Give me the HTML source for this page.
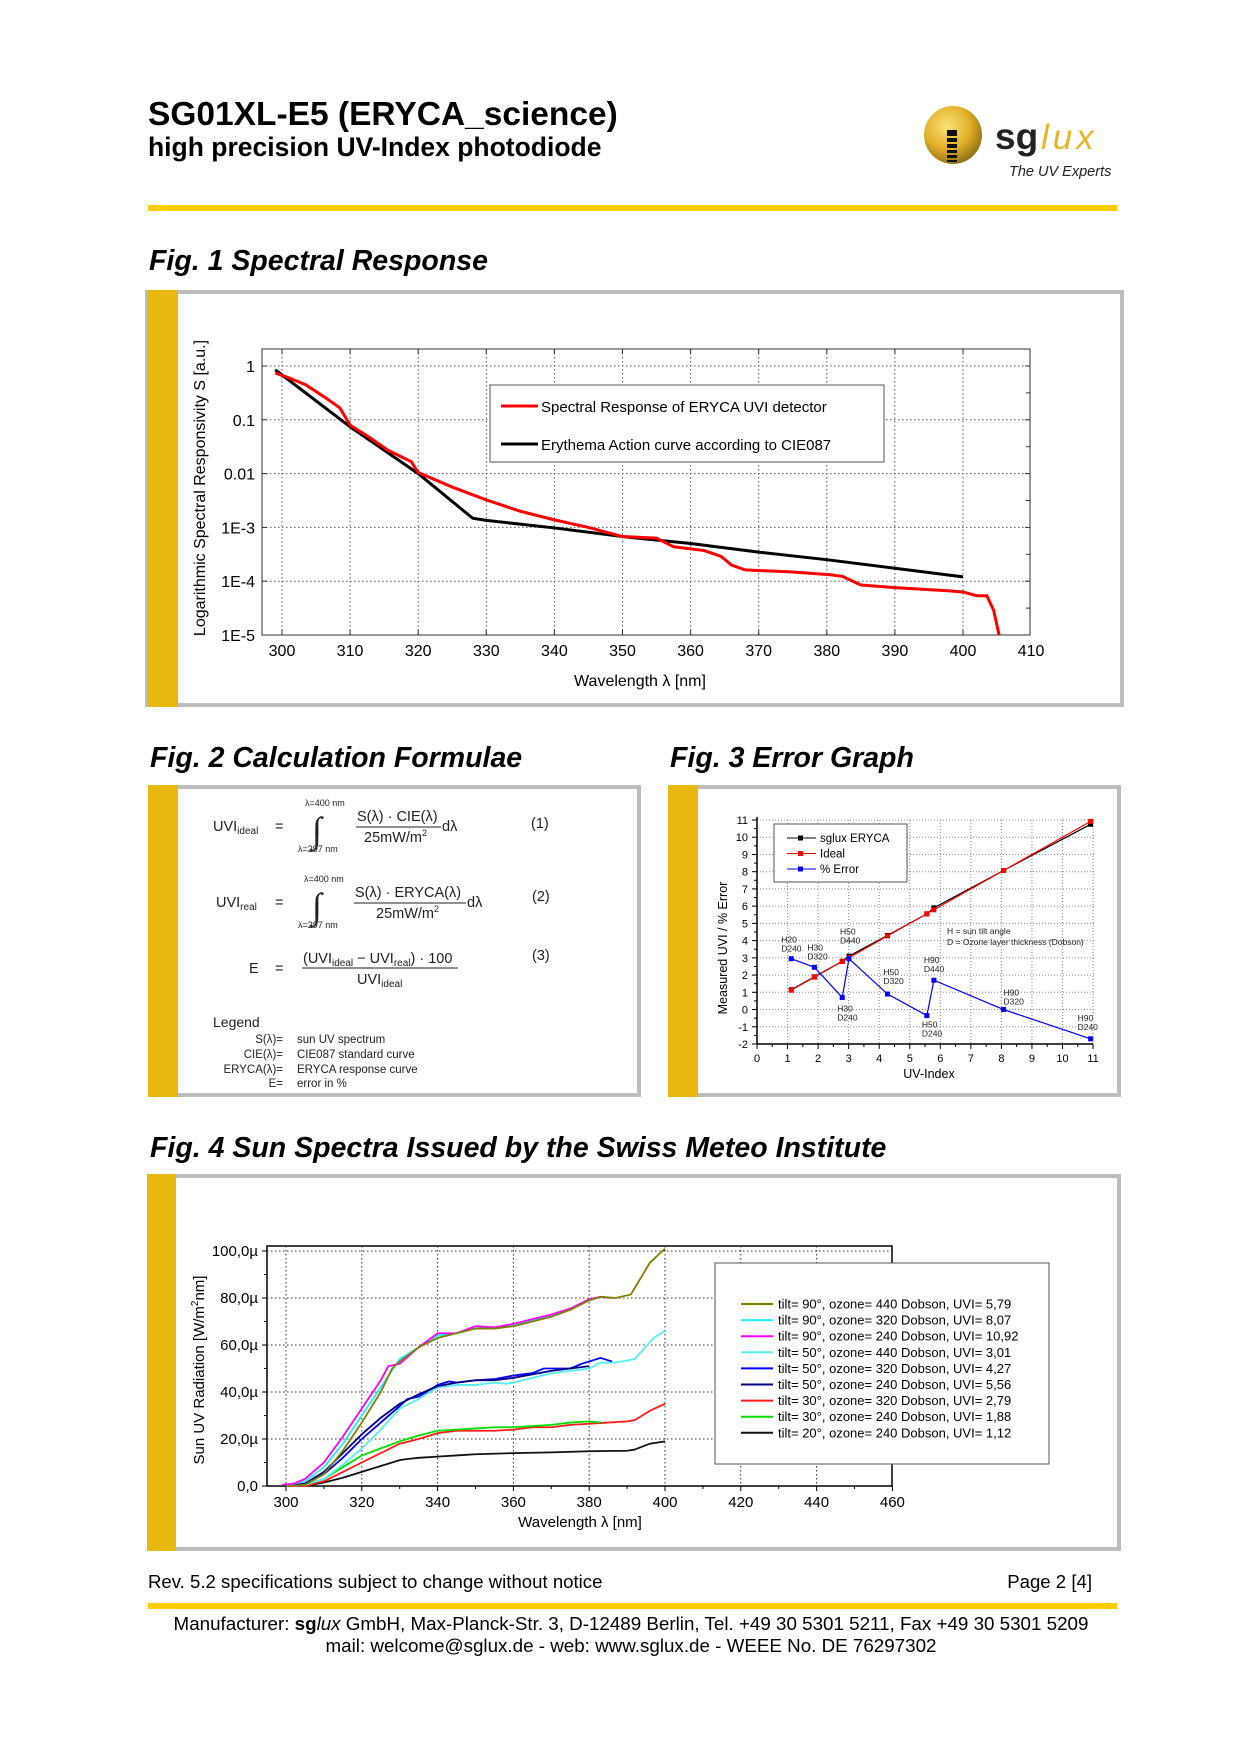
<!DOCTYPE html>
<html><head><meta charset="utf-8"><title>SG01XL-E5 datasheet page 2</title>
<style>
html,body{margin:0;padding:0;background:#fff;}
svg{display:block;font-family:"Liberation Sans",Arial,sans-serif;}
</style></head>
<body>
<svg id="page" width="1240" height="1754" viewBox="0 0 1240 1754" xmlns="http://www.w3.org/2000/svg">
<!-- Header -->
<text x="148" y="125" font-size="33.5" font-weight="bold" fill="#000">SG01XL-E5 (ERYCA_science)</text>
<text x="148" y="156" font-size="26.5" font-weight="bold" fill="#000">high precision UV-Index photodiode</text>
<g>
<defs><radialGradient id="gold" cx="0.4" cy="0.35" r="0.7"><stop offset="0" stop-color="#fbe27a"/><stop offset="0.55" stop-color="#e2b22a"/><stop offset="1" stop-color="#8a6a10"/></radialGradient></defs>
<circle cx="953" cy="135" r="29" fill="url(#gold)"/>
<g fill="#111"><rect x="947" y="130" width="10" height="6"/><rect x="947" y="138" width="10" height="4"/><rect x="947" y="144" width="10" height="4"/><rect x="947" y="150" width="10" height="3"/><rect x="947" y="155" width="10" height="3"/><rect x="947" y="160" width="10" height="2"/></g>
<text x="995" y="149" font-size="37" font-weight="bold" fill="#222">sg</text>
<text x="1041" y="149" font-size="35" font-style="italic" fill="#e6b52a" letter-spacing="4">lux</text>
<text x="1009" y="176" font-size="14.5" font-style="italic" fill="#222">The UV Experts</text>
</g>
<rect x="148" y="205" width="969" height="6" fill="#ffcc00"/>

<!-- Fig 1 -->
<text x="149" y="270" font-size="28.5" font-weight="bold" font-style="italic">Fig. 1 Spectral Response</text>
<g>
<rect x="147" y="292" width="975" height="413" fill="#fff" stroke="#bdbdbd" stroke-width="4"/>
<rect x="147" y="290" width="31" height="417" fill="#e9b80f"/>
</g>
<g id="fig1"></g>

<!-- Fig 2 -->
<text x="150" y="767" font-size="28.5" font-weight="bold" font-style="italic">Fig. 2 Calculation Formulae</text>
<g>
<rect x="150" y="787" width="489" height="308" fill="#fff" stroke="#bdbdbd" stroke-width="4"/>
<rect x="148" y="785" width="30" height="312" fill="#e9b80f"/>
</g>
<g font-size="14.5" fill="#222">
<text x="213" y="831">UVI<tspan font-size="10" dy="3">ideal</tspan></text>
<text x="275" y="831">=</text>
<text x="305" y="806" font-size="9">λ=400 nm</text>
<text x="312" y="842" font-size="36" font-family="Liberation Serif,serif" font-style="italic">∫</text>
<text x="298" y="852" font-size="9">λ=297 nm</text>
<text x="357" y="821">S(λ) · CIE(λ)</text>
<line x1="356" y1="827" x2="441" y2="827" stroke="#222" stroke-width="1"/>
<text x="364" y="842">25mW/m<tspan font-size="9" dy="-6">2</tspan></text>
<text x="442" y="831">dλ</text>
<text x="531" y="828">(1)</text>
</g>
<g font-size="14.5" fill="#222">
<text x="216" y="907">UVI<tspan font-size="10" dy="3">real</tspan></text>
<text x="275" y="907">=</text>
<text x="304" y="882" font-size="9">λ=400 nm</text>
<text x="312" y="918" font-size="36" font-family="Liberation Serif,serif" font-style="italic">∫</text>
<text x="298" y="928" font-size="9">λ=297 nm</text>
<text x="355" y="897">S(λ) · ERYCA(λ)</text>
<line x1="354" y1="903" x2="466" y2="903" stroke="#222" stroke-width="1"/>
<text x="376" y="918">25mW/m<tspan font-size="9" dy="-6">2</tspan></text>
<text x="467" y="907">dλ</text>
<text x="532" y="901">(2)</text>
</g>
<g font-size="14.5" fill="#222">
<text x="249" y="973">E</text>
<text x="275" y="973">=</text>
<text x="303" y="963">(UVI<tspan font-size="10" dy="3">ideal</tspan><tspan dy="-3"> − UVI</tspan><tspan font-size="10" dy="3">real</tspan><tspan dy="-3">) · 100</tspan></text>
<line x1="302" y1="968" x2="458" y2="968" stroke="#222" stroke-width="1"/>
<text x="357" y="984">UVI<tspan font-size="10" dy="3">ideal</tspan></text>
<text x="532" y="960">(3)</text>
</g>
<g fill="#222">
<text x="213" y="1027" font-size="14">Legend</text>
<g font-size="11.5">
<text x="283" y="1043" text-anchor="end">S(λ)=</text><text x="297" y="1043">sun UV spectrum</text>
<text x="283" y="1058" text-anchor="end">CIE(λ)=</text><text x="297" y="1058">CIE087 standard curve</text>
<text x="283" y="1073" text-anchor="end">ERYCA(λ)=</text><text x="297" y="1073">ERYCA response curve</text>
<text x="283" y="1087" text-anchor="end">E=</text><text x="297" y="1087">error in %</text>
</g></g>

<!-- Fig 3 -->
<text x="670" y="767" font-size="28.5" font-weight="bold" font-style="italic">Fig. 3 Error Graph</text>
<g>
<rect x="670" y="787" width="449" height="308" fill="#fff" stroke="#bdbdbd" stroke-width="4"/>
<rect x="668" y="785" width="30" height="312" fill="#e9b80f"/>
</g>
<g id="fig3"></g>

<!-- Fig 4 -->
<text x="150" y="1157" font-size="28.5" font-weight="bold" font-style="italic">Fig. 4 Sun Spectra Issued by the Swiss Meteo Institute</text>
<g>
<rect x="149" y="1176" width="970" height="373" fill="#fff" stroke="#bdbdbd" stroke-width="4"/>
<rect x="147" y="1174" width="29" height="377" fill="#e9b80f"/>
</g>
<g id="fig4"></g>

<!-- Footer -->
<text x="148" y="1588" font-size="18.6">Rev. 5.2 specifications subject to change without notice</text>
<text x="1092" y="1588" font-size="18.6" text-anchor="end">Page 2 [4]</text>
<rect x="148" y="1603" width="969" height="6" fill="#ffcc00"/>
<text x="631" y="1630" font-size="18.8" text-anchor="middle">Manufacturer: <tspan font-weight="bold">sg</tspan><tspan font-style="italic">lux</tspan> GmbH, Max-Planck-Str. 3, D-12489 Berlin, Tel. +49 30 5301 5211, Fax +49 30 5301 5209</text>
<text x="631" y="1652" font-size="18.8" text-anchor="middle">mail: welcome@sglux.de - web: www.sglux.de - WEEE No. DE 76297302</text>
</svg>

<script>
// ---------- Fig 1 data ----------
const f1Ticks = [300,310,320,330,340,350,360,370,380,390,400,410];
const f1YTicks = [0,-1,-2,-3,-4,-5];
const f1YLabels = ["1","0.1","0.01","1E-3","1E-4","1E-5"];
const f1RedNm = [299,301,303.5,306.5,308.5,310,312.5,315.5,319,320,325,330,335,340,345,350,355,357.5,362,364.5,366,368,375,380.5,382.3,385,390,398,400,402,403.5,404.5,405.3];
const f1RedLog = [-0.13,-0.22,-0.35,-0.6,-0.78,-1.1,-1.3,-1.56,-1.78,-1.98,-2.25,-2.49,-2.7,-2.86,-3.0,-3.17,-3.2,-3.36,-3.43,-3.54,-3.7,-3.79,-3.83,-3.88,-3.91,-4.07,-4.12,-4.18,-4.2,-4.27,-4.27,-4.54,-5.0];
const f1BlackNm = [299,310,320,328,330,340,350,360,370,380,390,400];
const f1BlackLog = [-0.07,-1.13,-2.0,-2.83,-2.87,-3.01,-3.17,-3.3,-3.46,-3.6,-3.76,-3.92];

// ---------- Fig 3 data ----------
const f3Uvi = [1.12,1.88,2.79,3.01,4.27,5.56,5.79,8.07,10.92];
const f3Sglux = [1.15,1.9,2.8,3.1,4.3,5.55,5.9,8.07,10.75];
const f3Ideal = [1.12,1.88,2.79,3.01,4.27,5.56,5.79,8.07,10.92];
const f3Error = [2.95,2.45,0.7,2.95,0.9,-0.35,1.7,0.0,-1.7];
const f3Notes = [["H20","D240"],["H30","D320"],["H30","D240"],["H50","D440"],["H50","D320"],["H50","D240"],["H90","D440"],["H90","D320"],["H90","D240"]];

// ---------- Fig 4 data ----------
const f4Names = ["tilt= 90°, ozone= 440 Dobson, UVI= 5,79","tilt= 90°, ozone= 320 Dobson, UVI= 8,07","tilt= 90°, ozone= 240 Dobson, UVI= 10,92","tilt= 50°, ozone= 440 Dobson, UVI= 3,01","tilt= 50°, ozone= 320 Dobson, UVI= 4,27","tilt= 50°, ozone= 240 Dobson, UVI= 5,56","tilt= 30°, ozone= 320 Dobson, UVI= 2,79","tilt= 30°, ozone= 240 Dobson, UVI= 1,88","tilt= 20°, ozone= 240 Dobson, UVI= 1,12"];
const f4Colors = ["#808000","#22eeff","#ff00ff","#55eeee","#0000ff","#000080","#ff1a1a","#00e000","#111111"];
const f4Olive = [[300,0],[305,0.5],[310,5],[315,15],[320,27],[325,40],[328,50],[330,53],[335,59],[340,63],[345,65],[350,67],[355,67],[360,68],[365,70],[370,72],[375,75],[380,79],[383,80.5],[387,80],[391,81.5],[396,95],[400,101]];
const f4Cyan1 = [[300,0.5],[305,2],[310,8],[315,18],[320,30],[325,42],[330,54],[335,59],[340,64],[345,65],[350,67],[355,67.5],[360,68.5],[365,70.5],[370,72.5],[375,75],[380,79],[383,80.5]];
const f4Magenta = [[299,0.5],[302,1],[305,3],[310,10],[315,21],[320,33],[325,45],[327,51],[330,52],[335,59],[340,65],[345,65],[350,68],[355,67.5],[360,69],[365,71],[370,73],[375,75.5],[380,79.5],[383,80.5],[386,80]];
const f4Cyan2 = [[300,0],[305,0.5],[310,3],[315,9],[320,16],[325,24],[330,33],[335,37],[340,42],[345,43],[350,43],[355,44],[358,43.5],[360,44],[365,46],[370,48],[375,49],[380,50],[383,52.5],[387,52.5],[392,54],[397,63],[400,66]];
const f4Blue = [[300,0],[305,1],[310,5],[315,12],[320,20],[325,27],[330,34],[332,37],[335,38],[340,43],[343,44.5],[345,44],[350,45],[355,45.5],[360,47],[365,48],[368,50],[375,50],[378,52],[383,54.5],[386,53]];
const f4Navy = [[300,0],[305,1],[310,6],[315,14],[320,22],[325,29],[330,35],[335,39],[340,42.5],[345,44],[350,45],[355,45],[360,46],[365,47.5],[370,49],[375,50],[380,51]];
const f4Red = [[300,0],[305,0],[310,2],[315,6],[320,10],[325,14],[330,18],[335,20],[340,22.5],[345,23.5],[350,23.5],[355,23.5],[360,24],[365,25],[370,25],[375,26],[380,26.5],[385,27],[390,27.5],[392,28],[396,32],[400,35]];
const f4Green = [[300,0],[305,0.5],[310,3],[315,8],[320,13],[325,16],[330,19],[335,21.5],[340,23.5],[345,24],[350,24.5],[355,25],[360,25],[365,25.5],[370,26],[375,27],[380,27.5],[383,27]];
const f4Black = [[305,0],[310,1.5],[315,3.5],[320,6],[325,8.5],[330,11],[332,11.5],[335,12],[340,12.5],[345,13],[350,13.5],[360,14],[370,14.3],[380,14.8],[390,15],[392,15.5],[396,18],[400,19]];
const f4XTicks = [300,320,340,360,380,400,420,440,460];
const f4YTicks = [0,20,40,60,80,100];
const f4YLabels = ["0,0","20,0µ","40,0µ","60,0µ","80,0µ","100,0µ"];

const NS = "http://www.w3.org/2000/svg";
function mk(tag, attrs, parent){ const e=document.createElementNS(NS,tag); for(const k in attrs) e.setAttribute(k,attrs[k]); parent.appendChild(e); return e; }
function txt(s, attrs, parent){ const e=mk('text',attrs,parent); e.textContent=s; return e; }

// ===== Fig 1 =====
(function(){
  const g=document.getElementById('fig1');
  const X=nm=>282+(nm-300)*6.81, Y=l=>366-l*53.8;
  const L=262,R=1030,T=349,B=635;
  const bg=mk('rect',{x:L,y:T,width:R-L,height:B-T,fill:'#fff',stroke:'#333','stroke-width':1},g);
   
  f1Ticks.forEach(v=>{
    if(v<=400){const l=mk('line',{x1:X(v),x2:X(v),y1:T,y2:B,stroke:'#555','stroke-dasharray':'1.5 2.5','stroke-width':1},g);
     }
    const t=txt(String(v),{x:X(v),y:656,'font-size':16,'text-anchor':'middle'},g);
     
    if(v<410){
      mk('line',{x1:X(v),x2:X(v),y1:B,y2:B-5,stroke:'#333'},g);
      mk('line',{x1:X(v),x2:X(v),y1:T,y2:T+5,stroke:'#333'},g);
    }
  });
  f1YTicks.forEach((v,i)=>{
    if(v<=0 && v>-5){const l=mk('line',{x1:L,x2:R,y1:Y(v),y2:Y(v),stroke:'#555','stroke-dasharray':'1.5 2.5'},g);
     }
    const t=txt(f1YLabels[i],{x:255,y:Y(v)+6,'font-size':16,'text-anchor':'end'},g);
     
    mk('line',{x1:L,x2:L+5,y1:Y(v),y2:Y(v),stroke:'#333'},g);
    mk('line',{x1:R,x2:R-5,y1:Y(v),y2:Y(v),stroke:'#333'},g);
    if(v>-5) mk('line',{x1:R,x2:R-4,y1:Y(v-0.5),y2:Y(v-0.5),stroke:'#333'},g);
  });
  const bl=mk('polyline',{points:f1BlackNm.map((n,i)=>X(n)+','+Y(f1BlackLog[i])).join(' '),fill:'none',stroke:'#000','stroke-width':3},g);
   
  const rd=mk('polyline',{points:f1RedNm.map((n,i)=>X(n)+','+Y(f1RedLog[i])).join(' '),fill:'none',stroke:'#ff0000','stroke-width':3},g);
   
  const lg=mk('g',{},g);
   
  mk('rect',{x:490,y:385,width:394,height:77,fill:'#fff',stroke:'#555'},lg);
  mk('line',{x1:501,x2:538,y1:406,y2:406,stroke:'#f00','stroke-width':3},lg);
  txt('Spectral Response of ERYCA UVI detector',{x:541,y:412,'font-size':15},lg);
  mk('line',{x1:501,x2:538,y1:444,y2:444,stroke:'#000','stroke-width':3},lg);
  txt('Erythema Action curve according to CIE087',{x:541,y:450,'font-size':15},lg);
  const xt=txt('Wavelength λ [nm]',{x:640,y:686,'font-size':16,'text-anchor':'middle'},g);
   
  const yt=txt('Logarithmic Spectral Responsivity S [a.u.]',{x:0,y:0,'font-size':16,'text-anchor':'middle',transform:'translate(205,488) rotate(-90)'},g);
   
})();

// ===== Fig 3 =====
(function(){
  const g=document.getElementById('fig3');
  const X=v=>757+v*30.55, Y=v=>820+(11-v)*17.23;
  const L=757,R=1095,T=Y(11),B=Y(-2);
  for(let v=1; v<=11; v++){const l=mk('line',{x1:X(v),x2:X(v),y1:T,y2:B,stroke:'#888','stroke-dasharray':'1 2'},g);
     }
  for(let v=-1; v<=11; v++){const l=mk('line',{x1:L,x2:R,y1:Y(v),y2:Y(v),stroke:'#888','stroke-dasharray':'1 2'},g);
     }
  mk('line',{x1:L,x2:L,y1:T-3,y2:B,stroke:'#000','stroke-width':1.5},g);
  mk('line',{x1:L,x2:X(11),y1:B,y2:B,stroke:'#000','stroke-width':1.5},g);
  for(let v=0; v<=11; v++){
    mk('line',{x1:X(v),x2:X(v),y1:B,y2:B+5,stroke:'#000'},g);
    if(v<11) mk('line',{x1:X(v+0.5),x2:X(v+0.5),y1:B,y2:B+3,stroke:'#000'},g);
    const t=txt(String(v),{x:X(v),y:B+18,'font-size':11,'text-anchor':'middle'},g);
     
  }
  for(let v=-2; v<=11; v++){
    mk('line',{x1:L,x2:L-5,y1:Y(v),y2:Y(v),stroke:'#000'},g);
    if(v<11) mk('line',{x1:L,x2:L-3,y1:Y(v+0.5),y2:Y(v+0.5),stroke:'#000'},g);
    const t=txt(String(v),{x:748,y:Y(v)+4,'font-size':11,'text-anchor':'end'},g);
     
  }
  const series=[[f3Sglux,'#000','sglux-eryca-series'],[f3Ideal,'#f00','ideal-series'],[f3Error,'#00f','percent-error-series']];
  series.forEach(s=>{
    const sg=mk('g',{},g);
     
    const pts=f3Uvi.map((u,i)=>[X(u),Y(s[0][i])]);
    mk('polyline',{points:pts.map(p=>p.join(',')).join(' '),fill:'none',stroke:s[1],'stroke-width':1.2},sg);
    pts.forEach(p=>{const m=mk('rect',{x:p[0]-2.5,y:p[1]-2.5,width:5,height:5,fill:s[1]},sg);
       });
  });
  // annotation label offsets relative to each error point
  const offX=[-10,-7,-5,-9,-4,-5,-10,0,-13];
  const offY=[-16,-17,14,-24,-19,12,-17,-14,-18];
  f3Uvi.forEach((u,i)=>{
    const px=X(u)+offX[i], py=Y(f3Error[i])+offY[i];
    const t=txt('',{x:px,y:py,'font-size':8.5,fill:'#222'},g);
     
    const a=mk('tspan',{x:px,dy:0},t); a.textContent=f3Notes[i][0];
    const b=mk('tspan',{x:px,dy:9},t); b.textContent=f3Notes[i][1];
  });
  const n1=txt('H = sun tilt angle',{x:947,y:934,'font-size':8.5,fill:'#222'},g);
   
  const n2=txt('D = Ozone layer thickness (Dobson)',{x:947,y:945,'font-size':8.5,fill:'#222'},g);
   
  const lg=mk('g',{},g);
   
  mk('rect',{x:774,y:824,width:133,height:58,fill:'#fff',stroke:'#555'},lg);
  [['sglux ERYCA','#000'],['Ideal','#f00'],['% Error','#00f']].forEach((e,i)=>{
    const y=838+i*15.5;
    mk('line',{x1:787,x2:816,y1:y,y2:y,stroke:e[1]},lg);
    mk('rect',{x:798,y:y-2.5,width:5,height:5,fill:e[1]},lg);
    txt(e[0],{x:820,y:y+4,'font-size':11.5},lg);
  });
  const xt=txt('UV-Index',{x:929,y:1078,'font-size':12.5,'text-anchor':'middle'},g);
   
  const yt=txt('Measured UVI / % Error',{x:0,y:0,'font-size':12.5,'text-anchor':'middle',transform:'translate(727,948) rotate(-90)'},g);
   
})();

// ===== Fig 4 =====
(function(){
  const g=document.getElementById('fig4');
  const X=nm=>286+(nm-300)*3.79, Y=v=>1486-v*2.35;
  const L=267,R=892,T=1246,B=1486;
  mk('rect',{x:L,y:T,width:R-L,height:B-T,fill:'#fff',stroke:'#000','stroke-width':1.5},g);
  f4XTicks.forEach(v=>{
    if(v<460){const l=mk('line',{x1:X(v),x2:X(v),y1:T,y2:B,stroke:'#333','stroke-dasharray':'1.5 2.5'},g);
       }
    mk('line',{x1:X(v),x2:X(v),y1:B,y2:B+5,stroke:'#000'},g);
    if(v<460) mk('line',{x1:X(v+10),x2:X(v+10),y1:B,y2:B+3,stroke:'#000'},g);
    const t=txt(String(v),{x:X(v),y:1507,'font-size':15,'text-anchor':'middle'},g);
     
  });
  f4YTicks.forEach((v,i)=>{
    if(v>0){const l=mk('line',{x1:L,x2:R,y1:Y(v),y2:Y(v),stroke:'#333','stroke-dasharray':'1.5 2.5'},g);
       }
    mk('line',{x1:L,x2:L-5,y1:Y(v),y2:Y(v),stroke:'#000'},g);
    if(v<100) mk('line',{x1:L,x2:L-3,y1:Y(v+10),y2:Y(v+10),stroke:'#000'},g);
    const t=txt(f4YLabels[i],{x:258,y:Y(v)+5,'font-size':15,'text-anchor':'end'},g);
     
  });
  const data=[f4Olive,f4Cyan1,f4Magenta,f4Cyan2,f4Blue,f4Navy,f4Red,f4Green,f4Black];
  const drawOrder=[8,6,7,3,4,5,1,2,0];
  drawOrder.forEach(i=>{
    const p=mk('polyline',{points:data[i].map(d=>X(d[0])+','+Y(d[1])).join(' '),fill:'none',stroke:f4Colors[i],'stroke-width':1.8},g);
     
  });
  const lg=mk('g',{},g);
   
  mk('rect',{x:715,y:1263,width:334,height:201,fill:'#fff',stroke:'#555'},lg);
  f4Names.forEach((n,i)=>{
    const y=1304+i*16.1;
    mk('line',{x1:741,x2:773,y1:y,y2:y,stroke:f4Colors[i],'stroke-width':2},lg);
    const t=txt(n,{x:778,y:y+4.5,'font-size':13},lg);
     
  });
  const xt=txt('Wavelength λ [nm]',{x:580,y:1527,'font-size':15,'text-anchor':'middle'},g);
   
  const yt=txt('',{x:0,y:0,'font-size':15,'text-anchor':'middle',transform:'translate(204,1370) rotate(-90)'},g);
   
  const a=mk('tspan',{},yt); a.textContent='Sun UV Radiation [W/m';
  const b=mk('tspan',{'font-size':10,dy:-6},yt); b.textContent='2';
  const c=mk('tspan',{dy:6},yt); c.textContent='nm]';
})();
</script>
</body></html>
